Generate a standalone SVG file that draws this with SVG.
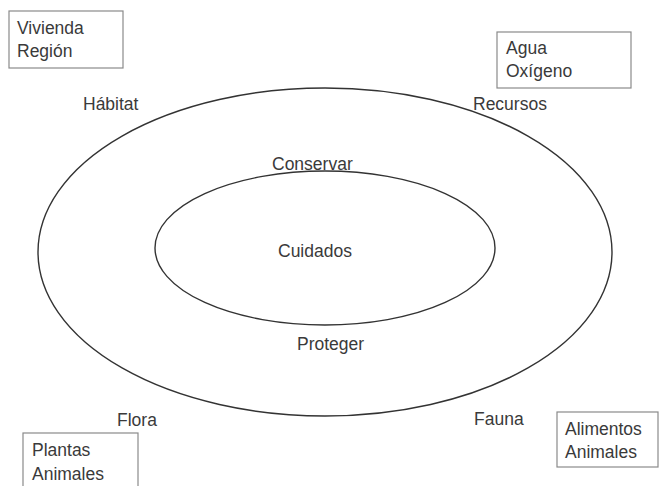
<svg xmlns="http://www.w3.org/2000/svg" width="659" height="486" viewBox="0 0 659 486">
<style>
  .t { font-family: "Liberation Sans", Arial, sans-serif; font-size: 17.5px; fill: #3a3a3a; }
  .box { fill: #ffffff; stroke: #8a8a8a; stroke-width: 1.2; }
  .ring { fill: none; stroke: #333333; stroke-width: 1.4; }
</style>
<rect width="659" height="486" fill="#ffffff"/>
<g id="outer-ellipse">
  <ellipse class="ring" cx="325" cy="252" rx="287" ry="164"/>
</g>
<g id="inner-ellipse">
  <ellipse class="ring" cx="325" cy="248" rx="170" ry="77"/>
</g>
<g id="vivienda">
  <rect class="box" x="9" y="11" width="114" height="57"/>
  <text class="t" x="17" y="34">Vivienda</text>
  <text class="t" x="17" y="57">Región</text>
</g>
<g id="agua">
  <rect class="box" x="497" y="32" width="134" height="56"/>
  <text class="t" x="506" y="54">Agua</text>
  <text class="t" x="506" y="77">Oxígeno</text>
</g>
<g id="plantas">
  <rect class="box" x="23" y="433" width="115" height="60"/>
  <text class="t" x="32" y="456">Plantas</text>
  <text class="t" x="32" y="480">Animales</text>
</g>
<g id="alimentos">
  <rect class="box" x="557" y="412" width="101" height="55"/>
  <text class="t" x="565" y="435">Alimentos</text>
  <text class="t" x="565" y="458">Animales</text>
</g>
<g id="habitat"><text class="t" x="83" y="110">Hábitat</text></g>
<g id="recursos"><text class="t" x="473" y="110">Recursos</text></g>
<g id="conservar"><text class="t" x="272" y="170">Conservar</text></g>
<g id="cuidados"><text class="t" x="278" y="257">Cuidados</text></g>
<g id="proteger"><text class="t" x="297" y="350">Proteger</text></g>
<g id="flora"><text class="t" x="117" y="426">Flora</text></g>
<g id="fauna"><text class="t" x="474" y="425">Fauna</text></g>
</svg>
